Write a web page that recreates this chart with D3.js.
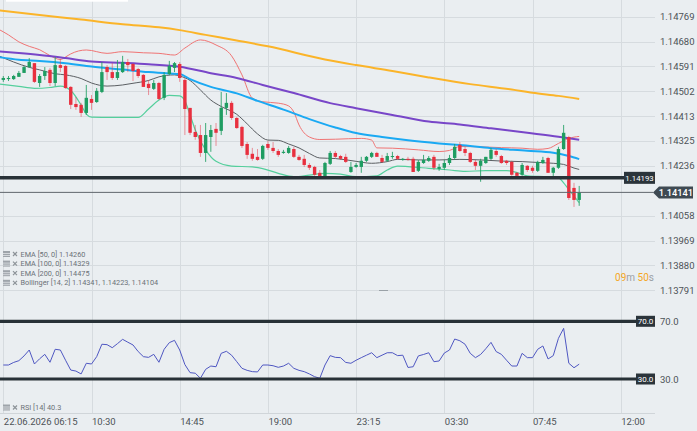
<!DOCTYPE html>
<html>
<head>
<meta charset="utf-8">
<script src="https://cdn.jsdelivr.net/npm/d3@7"></script>
<style>
  html, body { margin: 0; padding: 0; background: #eaeef1; }
  svg { display: block; font-family: Roboto, "Open Sans", sans-serif; }
</style>
</head>
<body>
<svg id="chart" width="697" height="431"></svg>
<script>
// 15 minute bars
const barMinutes = 15;
const firstBar = "2026-06-22T06:15";

const timeTicks = ["2026-06-22T06:15", "2026-06-22T10:30", "2026-06-22T14:45", "2026-06-22T19:00",
  "2026-06-22T23:15", "2026-06-23T03:30", "2026-06-23T07:45", "2026-06-23T12:00"];
const timeTickLabels = ["22.06.2026 06:15", "10:30", "14:45", "19:00", "23:15", "03:30", "07:45", "12:00"];

const priceTicks = [1.14769, 1.14680, 1.14591, 1.14502, 1.14413, 1.14325, 1.14236, 1.14058, 1.13969, 1.13880, 1.13791];

// [open, high, low, close]
const ohlc = [
  [1.14543,1.14557,1.14536,1.14550],[1.14546,1.14557,1.14539,1.14550],[1.14546,1.14561,1.14543,1.14557],
  [1.14554,1.14575,1.14554,1.14568],[1.14568,1.14593,1.14568,1.14589],[1.14589,1.14621,1.14586,1.14607],
  [1.14603,1.14603,1.14532,1.14536],[1.14532,1.14564,1.14518,1.14557],[1.14557,1.14589,1.14543,1.14575],
  [1.14579,1.14586,1.14521,1.14532],[1.14532,1.14625,1.14521,1.14596],[1.14596,1.14618,1.14571,1.14586],
  [1.14593,1.14596,1.14511,1.14514],[1.14518,1.14521,1.14439,1.14454],[1.14457,1.14482,1.14436,1.14446],
  [1.14454,1.14461,1.14411,1.14425],[1.14425,1.14525,1.14418,1.14479],[1.14475,1.14489,1.14436,1.14461],
  [1.14464,1.14514,1.14461,1.14504],[1.14500,1.14607,1.14496,1.14571],[1.14589,1.14596,1.14543,1.14571],
  [1.14571,1.14603,1.14543,1.14550],[1.14550,1.14614,1.14543,1.14571],[1.14571,1.14629,1.14568,1.14607],
  [1.14607,1.14618,1.14571,1.14596],[1.14600,1.14603,1.14539,1.14575],[1.14582,1.14586,1.14550,1.14557],
  [1.14561,1.14564,1.14518,1.14518],[1.14529,1.14543,1.14489,1.14514],[1.14511,1.14543,1.14507,1.14532],
  [1.14532,1.14536,1.14471,1.14475],[1.14479,1.14571,1.14471,1.14561],[1.14564,1.14611,1.14561,1.14593],
  [1.14586,1.14607,1.14571,1.14603],[1.14600,1.14607,1.14536,1.14550],[1.14543,1.14550,1.14346,1.14439],
  [1.14443,1.14443,1.14346,1.14354],[1.14357,1.14382,1.14329,1.14339],[1.14346,1.14382,1.14268,1.14282],
  [1.14282,1.14389,1.14250,1.14346],[1.14339,1.14382,1.14286,1.14364],[1.14368,1.14389,1.14307,1.14354],
  [1.14361,1.14500,1.14346,1.14443],[1.14443,1.14496,1.14418,1.14461],[1.14461,1.14468,1.14400,1.14407],
  [1.14407,1.14411,1.14368,1.14371],[1.14375,1.14379,1.14300,1.14307],[1.14314,1.14321,1.14261,1.14275],
  [1.14279,1.14300,1.14254,1.14261],[1.14268,1.14296,1.14254,1.14257],[1.14261,1.14311,1.14257,1.14307],
  [1.14314,1.14325,1.14293,1.14300],[1.14300,1.14321,1.14282,1.14289],[1.14289,1.14296,1.14268,1.14275],
  [1.14282,1.14293,1.14279,1.14286],[1.14282,1.14307,1.14279,1.14300],[1.14296,1.14304,1.14264,1.14268],
  [1.14268,1.14275,1.14254,1.14257],[1.14261,1.14275,1.14232,1.14239],[1.14239,1.14246,1.14221,1.14229],
  [1.14232,1.14236,1.14200,1.14204],[1.14211,1.14221,1.14193,1.14196],[1.14196,1.14250,1.14193,1.14246],
  [1.14243,1.14289,1.14239,1.14282],[1.14282,1.14289,1.14264,1.14268],[1.14271,1.14275,1.14257,1.14261],
  [1.14268,1.14279,1.14246,1.14250],[1.14214,1.14250,1.14211,1.14232],[1.14232,1.14246,1.14229,1.14239],
  [1.14232,1.14268,1.14211,1.14254],[1.14254,1.14271,1.14250,1.14268],[1.14268,1.14286,1.14264,1.14282],
  [1.14282,1.14286,1.14268,1.14268],[1.14264,1.14275,1.14246,1.14250],[1.14254,1.14282,1.14250,1.14271],
  [1.14268,1.14286,1.14261,1.14271],[1.14271,1.14275,1.14257,1.14261],[1.14257,1.14264,1.14254,1.14261],
  [1.14261,1.14268,1.14254,1.14257],[1.14261,1.14268,1.14214,1.14214],[1.14218,1.14257,1.14214,1.14250],
  [1.14246,1.14275,1.14243,1.14257],[1.14254,1.14271,1.14250,1.14264],[1.14268,1.14275,1.14221,1.14229],
  [1.14225,1.14243,1.14218,1.14232],[1.14229,1.14257,1.14221,1.14246],[1.14246,1.14275,1.14239,1.14264],
  [1.14264,1.14314,1.14257,1.14304],[1.14311,1.14321,1.14286,1.14289],[1.14296,1.14304,1.14271,1.14282],
  [1.14282,1.14286,1.14246,1.14250],[1.14250,1.14257,1.14221,1.14236],[1.14236,1.14261,1.14179,1.14254],
  [1.14246,1.14268,1.14243,1.14268],[1.14261,1.14300,1.14257,1.14293],[1.14289,1.14296,1.14268,1.14275],
  [1.14271,1.14275,1.14243,1.14246],[1.14254,1.14257,1.14239,1.14246],[1.14250,1.14254,1.14200,1.14204],
  [1.14211,1.14214,1.14196,1.14200],[1.14204,1.14246,1.14200,1.14239],[1.14236,1.14239,1.14214,1.14221],
  [1.14229,1.14236,1.14211,1.14218],[1.14218,1.14254,1.14214,1.14250],[1.14246,1.14268,1.14243,1.14257],
  [1.14264,1.14268,1.14211,1.14211],[1.14211,1.14232,1.14193,1.14229],[1.14229,1.14304,1.14225,1.14296],
  [1.14296,1.14382,1.14293,1.14354],[1.14339,1.14343,1.14114,1.14121],[1.14157,1.14175,1.14089,1.14114],
  [1.14114,1.14164,1.14093,1.14141]
];

const ema50 = [[-1,1.14625],[3,1.14615],[7,1.14611],[12,1.14603],[17,1.14591],[23,1.14580],[28,1.14571],
  [32,1.14566],[34,1.14564],[36,1.14546],[40,1.14518],[45,1.14495],[49,1.14468],[54,1.14437],[59,1.14403],
  [64,1.14373],[68,1.14353],[73,1.14339],[78,1.14327],[84,1.14316],[88,1.14310],[94,1.14299],[101,1.14290],
  [106,1.14283],[109,1.14271],[111,1.14260]];
const ema100 = [[-1,1.14645],[3,1.14639],[7,1.14632],[12,1.14621],[17,1.14609],[23,1.14604],[28,1.14599],
  [34,1.14590],[40,1.14567],[45,1.14550],[50,1.14525],[56,1.14496],[63,1.14460],[68,1.14442],[75,1.14418],
  [82,1.14394],[88,1.14384],[94,1.14370],[101,1.14354],[107,1.14340],[111,1.14329]];
const ema200 = [[-1,1.14792],[7,1.14775],[15,1.14759],[23,1.14742],[30,1.14731],[34,1.14721],[39,1.14704],
  [45,1.14684],[51,1.14663],[62,1.14616],[68,1.14596],[75,1.14575],[82,1.14552],[90,1.14528],[98,1.14509],
  [102,1.14497],[107,1.14486],[111,1.14475]];
const bollUpper = [[-1,1.14725],[1,1.14704],[3,1.14679],[5,1.14663],[7,1.14651],[9,1.14630],[11,1.14616],
  [12,1.14625],[13,1.14636],[16,1.14650],[20,1.14638],[23,1.14644],[27,1.14640],[30,1.14638],[33,1.14632],
  [35,1.14657],[38,1.14686],[41,1.14668],[44,1.14629],[46,1.14561],[48,1.14478],[50,1.14465],[53,1.14460],
  [55,1.14450],[56,1.14428],[57,1.14382],[59,1.14339],[61,1.14330],[64,1.14331],[69,1.14334],[71,1.14328],
  [72,1.14300],[75,1.14299],[80,1.14293],[84,1.14287],[86,1.14291],[88,1.14305],[92,1.14304],[96,1.14301],
  [100,1.14299],[103,1.14295],[105,1.14298],[107,1.14316],[109,1.14334],[111,1.14341]];
const bollMiddle = [[-1,1.14630],[2,1.14607],[5,1.14588],[7,1.14579],[10,1.14565],[12,1.14561],[15,1.14548],
  [17,1.14532],[20,1.14521],[23,1.14525],[25,1.14531],[28,1.14541],[30,1.14554],[33,1.14561],[34,1.14557],
  [36,1.14541],[38,1.14507],[40,1.14471],[42,1.14448],[45,1.14420],[47,1.14386],[49,1.14350],[51,1.14328],
  [53,1.14327],[55,1.14314],[57,1.14300],[59,1.14280],[61,1.14264],[64,1.14262],[68,1.14252],[71,1.14245],
  [74,1.14251],[76,1.14259],[80,1.14257],[84,1.14257],[88,1.14259],[92,1.14257],[96,1.14253],[100,1.14251],
  [103,1.14248],[106,1.14245],[108,1.14241],[110,1.14228],[111,1.14223]];
const bollLower = [[-1,1.14529],[3,1.14520],[6,1.14513],[9,1.14516],[11,1.14521],[13,1.14505],[15,1.14453],
  [16,1.14421],[17,1.14410],[21,1.14409],[26,1.14409],[28,1.14439],[30,1.14471],[32,1.14488],[34,1.14486],
  [35,1.14468],[36,1.14418],[37,1.14364],[39,1.14293],[41,1.14252],[44,1.14235],[48,1.14232],[50,1.14226],
  [53,1.14209],[56,1.14197],[59,1.14203],[62,1.14209],[65,1.14206],[68,1.14197],[72,1.14200],[74,1.14221],
  [76,1.14235],[78,1.14233],[82,1.14227],[86,1.14221],[89,1.14216],[93,1.14219],[97,1.14219],[99,1.14212],
  [101,1.14200],[105,1.14197],[107,1.14194],[108,1.14175],[109,1.14151],[110,1.14128],[111,1.14104]];

const rsi = [39.7,39.7,41.5,42.7,46,50.1,40.4,44,47.1,41.6,
  50.6,50.1,43,36.2,35.5,33.5,40.9,40.4,45.5,54.1,
  53.8,51.7,54.5,57.5,55.5,53.6,49,45.5,45.0,47.1,
  41.6,50.6,55.2,56.8,50.1,40,34.4,34.0,30.5,36.7,
  39.0,38.5,47.8,49.2,46.5,42,37.4,36,35.1,34.9,
  39.7,39.7,39.2,38.1,39.0,40.9,37.4,36,35.1,33.5,
  31.6,30.5,39.7,46.2,45.0,44.8,41.5,40.9,43,44.8,
  46.5,48.2,44.8,46.5,48.2,48.2,46.2,46.5,38,38.5,
  46,47,48.2,42.0,42.5,48,50.1,57.7,56.5,54.1,
  47.8,44.8,47,51,55.4,49,47.1,43,39.0,39.0,
  47.8,44.8,44.8,50.6,52.9,43.9,46.2,58.2,65.1,40.9,
  37.8,40.3];
const rsiLevels = [70, 30];

const supportLevel = 1.14193;
const lastPrice = 1.14141;
const legendRows = ["EMA [50, 0] 1.14260", "EMA [100, 0] 1.14329", "EMA [200, 0] 1.14475",
  "Bollinger [14, 2] 1.14341, 1.14223, 1.14104"];
const rsiLegend = "RSI [14] 40.3";

// ---- layout ----
const plotRight = 655, priceBottom = 290, rsiTop = 291, axisY = 413;
const parse = d3.timeParse("%Y-%m-%dT%H:%M");
const t0 = parse(firstBar);
const barTime = i => new Date(t0.getTime() + i * barMinutes * 60000);

const svg = d3.select("#chart");
svg.append("rect").attr("width", 697).attr("height", 431).attr("fill", "#eaeef1");

const x = d3.scaleTime()
  .domain([parse(timeTicks[0]), parse(timeTicks[timeTicks.length - 1])])
  .range([3.3, 620.7]);
const y = d3.scaleLinear().domain([1.13791, 1.14769]).range([290.3, 16.7]);
const yR = d3.scaleLinear().domain([30, 70]).range([379, 321.3]);

const defs = svg.append("defs");
defs.append("clipPath").attr("id", "clipPrice")
  .append("rect").attr("x", 0).attr("y", 0).attr("width", plotRight).attr("height", priceBottom);
defs.append("clipPath").attr("id", "clipRsi")
  .append("rect").attr("x", 0).attr("y", rsiTop).attr("width", plotRight).attr("height", axisY - rsiTop);

// grid
const grid = svg.append("g").attr("stroke", "#d6dbdf").attr("stroke-width", 1);
grid.selectAll(".vg").data(timeTicks).join("line")
  .attr("x1", d => Math.round(x(parse(d))) + 0.5).attr("x2", d => Math.round(x(parse(d))) + 0.5)
  .attr("y1", 0).attr("y2", axisY);
grid.selectAll(".hg").data(priceTicks).join("line")
  .attr("x1", 0).attr("x2", plotRight)
  .attr("y1", d => Math.round(y(d)) + 0.5).attr("y2", d => Math.round(y(d)) + 0.5);

svg.append("line").attr("x1", 0).attr("x2", plotRight).attr("y1", axisY + 0.5).attr("y2", axisY + 0.5)
  .attr("stroke", "#d0d5d9");
svg.append("line").attr("x1", 379).attr("x2", 388).attr("y1", priceBottom + 0.5).attr("y2", priceBottom + 0.5)
  .attr("stroke", "#9aa1a7");

// top bar remnant
svg.append("rect").attr("x", 6).attr("y", -2).attr("width", 122).attr("height", 3.7).attr("fill", "#fff");

// price axis
const yAxis = d3.axisRight(y).tickValues(priceTicks).tickSize(0).tickPadding(5)
  .tickFormat(d3.format(".5f"));
svg.append("g").attr("transform", `translate(${plotRight},0)`).call(yAxis)
  .call(g => g.select(".domain").remove())
  .call(g => g.selectAll("text").attr("fill", "#4d5257").attr("font-size", 9.5)
    .attr("font-family", "Roboto, sans-serif"));

// time axis
const xAxis = d3.axisBottom(x).tickValues(timeTicks.map(parse)).tickSize(0).tickPadding(5)
  .tickFormat((d, i) => timeTickLabels[i]);
svg.append("g").attr("transform", `translate(0,${axisY})`).call(xAxis)
  .call(g => g.select(".domain").remove())
  .call(g => g.selectAll("text").attr("text-anchor", "start").attr("fill", "#4d5257")
    .attr("font-size", 9.5).attr("font-family", "Roboto, sans-serif"));

// price pane
const pane = svg.append("g").attr("clip-path", "url(#clipPrice)");
const line = d3.line().x(d => x(barTime(d[0]))).y(d => y(d[1])).curve(d3.curveMonotoneX);

pane.append("path").datum(bollUpper).attr("d", line).attr("fill", "none").attr("stroke", "#f07474").attr("stroke-width", 1);
pane.append("path").datum(bollLower).attr("d", line).attr("fill", "none").attr("stroke", "#54cf9c").attr("stroke-width", 1.2);
pane.append("path").datum(bollMiddle).attr("d", line).attr("fill", "none").attr("stroke", "#5b5f63").attr("stroke-width", 1);
pane.append("path").datum(ema200).attr("d", line).attr("fill", "none").attr("stroke", "#fbb429").attr("stroke-width", 2);
pane.append("path").datum(ema100).attr("d", line).attr("fill", "none").attr("stroke", "#7846c8").attr("stroke-width", 2);
pane.append("path").datum(ema50).attr("d", line).attr("fill", "none").attr("stroke", "#1aa9f3").attr("stroke-width", 2);

const up = "#1f9d62", down = "#e8303f";
const bars = pane.selectAll(".bar").data(ohlc).join("g");
bars.append("line")
  .attr("x1", (d, i) => x(barTime(i))).attr("x2", (d, i) => x(barTime(i)))
  .attr("y1", d => y(d[1])).attr("y2", d => y(d[2]))
  .attr("stroke", d => d[3] >= d[0] ? up : down)
  .attr("stroke-opacity", d => d[3] >= d[0] ? 0.85 : 0.5).attr("stroke-width", 1);
bars.append("rect")
  .attr("x", (d, i) => x(barTime(i)) - 1.7).attr("width", 3.4)
  .attr("y", d => y(Math.max(d[0], d[3])))
  .attr("height", d => Math.max(1, Math.abs(y(d[0]) - y(d[3]))))
  .attr("fill", d => d[3] >= d[0] ? up : down);

// support level
const ySup = y(supportLevel);
svg.append("line").attr("x1", 0).attr("x2", 624).attr("y1", ySup).attr("y2", ySup)
  .attr("stroke", "#283137").attr("stroke-width", 3.5);
svg.append("rect").attr("x", 624).attr("y", ySup - 6).attr("width", 31).attr("height", 12).attr("fill", "#2b343b");
svg.append("text").attr("x", 639.5).attr("y", ySup + 3).attr("text-anchor", "middle")
  .attr("fill", "#fff").attr("font-size", 7.8).text(d3.format(".5f")(supportLevel));

// last price
const yLast = y(lastPrice);
svg.append("line").attr("x1", 0).attr("x2", 653).attr("y1", yLast).attr("y2", yLast)
  .attr("stroke", "#60676d").attr("stroke-width", 1);
svg.append("path")
  .attr("d", `M653,${yLast}L659,${yLast - 6}L693,${yLast - 6}L693,${yLast + 6}L659,${yLast + 6}Z`)
  .attr("fill", "#3f4a53");
svg.append("text").attr("x", 676).attr("y", yLast + 3.5).attr("text-anchor", "middle")
  .attr("fill", "#fff").attr("font-size", 9.3).attr("font-weight", 500).text(d3.format(".5f")(lastPrice));

// countdown
const cd = svg.append("text").attr("x", 654).attr("y", 280.5).attr("text-anchor", "end").attr("font-size", 10);
cd.append("tspan").attr("fill", "#f5a623").text("09");
cd.append("tspan").attr("fill", "#9aa0a6").text("m ");
cd.append("tspan").attr("fill", "#f5a623").text("50");
cd.append("tspan").attr("fill", "#9aa0a6").text("s");

// legend
function legendIcon(g, cy) {
  g.append("rect").attr("x", 3).attr("y", cy - 3).attr("width", 7).attr("height", 6).attr("fill", "#9ea4aa");
  g.append("line").attr("x1", 3).attr("x2", 10).attr("y1", cy - 0.5).attr("y2", cy - 0.5).attr("stroke", "#eaeef1").attr("stroke-width", 0.7);
  g.append("line").attr("x1", 3).attr("x2", 10).attr("y1", cy + 1.5).attr("y2", cy + 1.5).attr("stroke", "#eaeef1").attr("stroke-width", 0.7);
  g.append("path").attr("d", `M13,${cy - 2}L17,${cy + 2}M17,${cy - 2}L13,${cy + 2}`)
    .attr("stroke", "#8d9399").attr("stroke-width", 1.2);
}
const legend = svg.append("g");
legendRows.forEach((t, i) => {
  const cy = 254 + i * 9.6;
  legendIcon(legend, cy);
  legend.append("text").attr("x", 20.5).attr("y", cy + 2.5).attr("font-size", 7.3).attr("fill", "#6b7177").text(t);
});
legendIcon(legend, 407.5);
legend.append("text").attr("x", 20.5).attr("y", 410).attr("font-size", 7.3).attr("fill", "#6b7177").text(rsiLegend);

// RSI pane
const rsiPane = svg.append("g").attr("clip-path", "url(#clipRsi)");
rsiPane.append("path").datum(rsi)
  .attr("d", d3.line().x((d, i) => x(barTime(i))).y(d => yR(d)))
  .attr("fill", "none").attr("stroke", "#4f57c2").attr("stroke-width", 1);

rsiLevels.forEach(v => {
  const yy = yR(v);
  svg.append("line").attr("x1", 0).attr("x2", 636).attr("y1", yy).attr("y2", yy)
    .attr("stroke", "#283137").attr("stroke-width", 3.2);
  svg.append("rect").attr("x", 636).attr("y", yy - 5.5).attr("width", 19).attr("height", 11).attr("fill", "#2b343b");
  svg.append("text").attr("x", 645.5).attr("y", yy + 3).attr("text-anchor", "middle")
    .attr("fill", "#fff").attr("font-size", 8).text(v.toFixed(1));
  svg.append("text").attr("x", 660).attr("y", yy + 3.5)
    .attr("fill", "#4d5257").attr("font-size", 9.5).text(v.toFixed(1));
});
</script>
</body>
</html>
